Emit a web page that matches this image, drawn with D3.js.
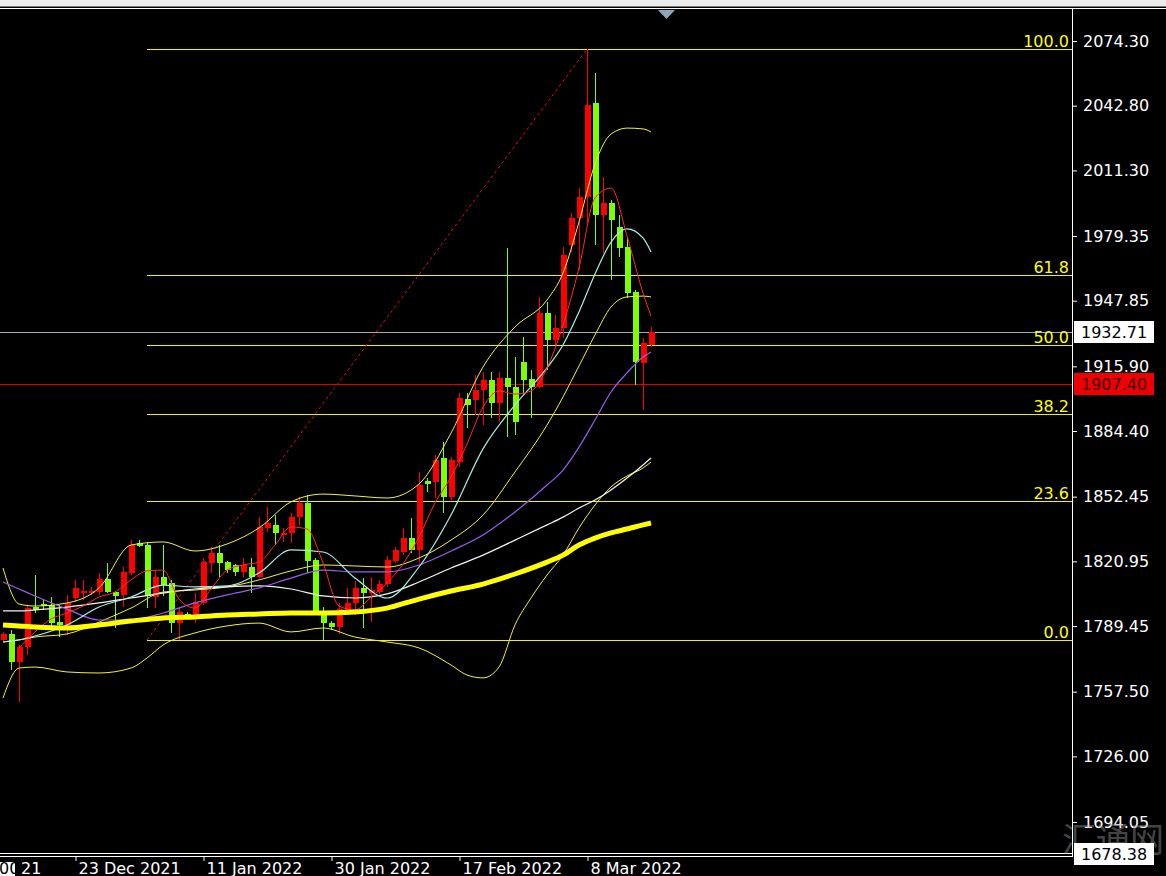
<!DOCTYPE html>
<html><head><meta charset="utf-8">
<script src="https://cdn.jsdelivr.net/npm/d3@7"></script>
<style>html,body{margin:0;padding:0;background:#000;overflow:hidden}</style>
</head><body><svg id="c" width="1166" height="876"></svg>
<script>
// ---------- DATA ----------
const opens=[1782.7,1785.6,1772.0,1779.3,1798.7,1800.2,1799.7,1791.4,1790.0,1803.1,1805.5,1805.5,1806.0,1812.4,1806.0,1804.6,1815.3,1829.9,1828.9,1803.6,1813.3,1810.4,1790.9,1795.3,1794.3,1800.7,1820.2,1825.0,1820.6,1819.2,1815.8,1818.2,1813.3,1837.2,1838.7,1833.8,1834.8,1842.5,1849.4,1821.6,1796.8,1790.9,1789.0,1797.3,1800.7,1808.0,1805.5,1806.0,1809.9,1821.1,1825.5,1832.3,1826.5,1860.1,1859.6,1871.3,1852.3,1869.3,1900.0,1899.5,1904.4,1909.3,1898.1,1910.2,1905.8,1918.0,1909.7,1905.8,1941.9,1928.7,1934.6,1975.0,1988.1,1998.3,2044.1,1989.6,1995.4,1983.7,1974.0,1952.1,1917.5,1926.3];
const highs=[1786.6,1787.5,1780.2,1799.7,1814.3,1802.1,1803.6,1799.7,1804.6,1811.9,1811.9,1808.5,1815.3,1820.2,1806.5,1818.2,1831.3,1831.3,1830.4,1816.7,1828.9,1811.9,1798.2,1796.3,1805.5,1822.6,1827.9,1828.9,1821.1,1819.7,1822.6,1822.6,1842.5,1847.4,1843.5,1837.2,1844.5,1852.3,1853.3,1822.6,1798.7,1791.9,1800.7,1808.0,1811.4,1812.8,1813.3,1811.9,1823.6,1827.9,1837.2,1842.1,1864.5,1861.5,1872.7,1879.1,1871.8,1902.9,1902.9,1911.7,1913.1,1913.1,1913.1,1973.5,1920.4,1930.2,1914.1,1949.7,1947.2,1940.9,1974.0,1990.6,2002.7,2070.4,2058.7,2008.1,1996.9,1989.6,1978.9,1953.1,1929.7,1935.1];
const lows=[1781.7,1768.1,1752.5,1775.4,1795.8,1797.8,1788.5,1784.1,1785.1,1801.2,1802.1,1804.6,1804.6,1805.5,1788.5,1798.7,1814.3,1827.9,1798.2,1798.2,1804.1,1786.1,1782.7,1793.4,1790.9,1799.7,1815.3,1813.3,1815.3,1813.8,1813.3,1805.5,1812.8,1835.2,1828.9,1830.4,1829.9,1838.7,1815.3,1795.8,1782.7,1787.5,1785.6,1795.8,1794.8,1788.5,1791.4,1805.1,1808.5,1820.2,1824.0,1825.0,1820.2,1854.7,1851.8,1844.5,1850.8,1866.9,1885.9,1892.2,1887.3,1890.7,1888.8,1881.5,1882.5,1902.9,1890.7,1905.4,1914.1,1926.3,1929.7,1971.6,1962.8,1985.7,1975.0,1971.1,1957.9,1969.1,1949.2,1906.8,1894.6,1925.3];
const closes=[1785.6,1772.0,1779.3,1798.2,1797.3,1799.2,1790.9,1790.0,1800.7,1808.0,1806.5,1806.5,1812.4,1806.0,1804.1,1815.8,1828.9,1828.4,1804.1,1813.3,1809.4,1790.9,1796.3,1794.3,1801.2,1820.6,1825.0,1820.2,1816.7,1815.8,1819.2,1813.3,1837.7,1839.6,1834.8,1834.8,1842.5,1849.4,1821.1,1796.8,1790.9,1789.0,1797.8,1800.7,1808.0,1805.5,1807.0,1809.9,1821.6,1826.5,1832.3,1826.5,1858.1,1858.6,1870.3,1852.3,1870.3,1900.5,1897.1,1904.4,1909.3,1898.1,1910.2,1905.8,1888.8,1909.3,1905.8,1941.9,1928.7,1934.6,1970.1,1988.1,1998.3,2043.1,1989.6,1995.4,1987.2,1973.5,1951.6,1918.0,1927.3,1932.71];

// indicator lines (bar index -> price)
const lineIdx=[0,2,4,8,12,16,20,24,28,32,36,40,44,48,52,56,60,64,68,70,72,74,76,78,80,81];
const maThick=[1790.0,1789.5,1789.0,1788.5,1790.0,1791.9,1793.4,1793.9,1794.8,1795.3,1795.8,1795.8,1796.3,1798.2,1802.6,1806.5,1809.9,1814.8,1820.6,1824.0,1828.9,1832.3,1834.8,1836.7,1838.7,1839.6];
const maWhite=[1796.8,1796.8,1797.3,1798.7,1800.7,1803.1,1805.5,1807.5,1808.5,1809.0,1807.5,1804.1,1803.1,1805.1,1810.9,1817.7,1824.0,1831.3,1838.7,1842.5,1846.9,1850.8,1855.7,1861.5,1867.9,1871.3];
const maPurple=[1810.9,1807.5,1804.1,1797.7,1792.4,1792.4,1795.8,1800.7,1804.6,1808.0,1812.8,1816.7,1815.8,1815.8,1819.2,1826.0,1833.8,1845.0,1858.1,1865.4,1876.6,1889.8,1903.4,1912.7,1920.4,1922.9];
const maCyan=[1781.7,1782.7,1784.6,1790.0,1798.7,1803.6,1809.4,1808.5,1809.0,1815.3,1826.5,1825.5,1812.8,1803.1,1818.2,1843.5,1875.7,1897.1,1915.1,1926.3,1942.4,1960.9,1976.4,1982.8,1978.4,1971.6];
const bbUpper=[1817.7,1800.2,1799.2,1800.7,1808.0,1828.9,1830.4,1826.0,1829.4,1837.2,1849.9,1853.7,1852.8,1851.8,1858.6,1883.4,1915.6,1935.1,1948.2,1961.3,1986.2,2014.4,2029.0,2031.9,2031.5,2030.0];
const bbMiddle=[1781.7,1782.7,1784.1,1785.6,1791.4,1798.2,1806.0,1807.0,1808.5,1811.9,1816.3,1819.2,1818.7,1818.2,1822.6,1831.3,1843.5,1864.5,1887.3,1901.0,1916.1,1931.2,1944.8,1949.7,1950.1,1949.7];
const lowerIdx=[0,2,4,8,12,16,18,20,24,28,32,36,40,44,48,52,56,58,60,62,64,66,68,70,72,74,76,78,80,81];
const bbLower=[1754.4,1769.0,1769.5,1767.1,1766.6,1769.0,1773.9,1780.2,1786.1,1789.5,1790.9,1786.6,1788.5,1784.1,1781.7,1778.8,1770.5,1765.6,1764.2,1769.5,1790.0,1803.1,1814.3,1824.0,1837.2,1848.4,1857.2,1862.5,1866.4,1869.3];
const redIdx=[2,4,6,8,10,12,14,16,18,20,22,24,26,28,30,32,34,36,38,40,42,44,46,48,50,52,54,56,58,60,62,64,66,68,70,72,74,76,78,80,81];
const maRed=[1778.8,1786.6,1792.9,1795.8,1799.2,1803.6,1806.0,1811.9,1816.3,1816.7,1802.6,1798.2,1807.5,1816.7,1819.2,1820.6,1828.9,1837.7,1836.7,1820.2,1799.2,1797.3,1803.6,1810.4,1819.7,1832.8,1849.4,1862.0,1878.1,1896.1,1903.9,1902.4,1903.9,1915.1,1936.0,1963.8,1997.9,2002.7,1979.4,1951.6,1940.4];

// Fibonacci retracement
const fibLowIdx=18, fibLowPrice=1782.66, fibHighIdx=73, fibHighPrice=2070.40;
const fibLevels=[0,23.6,38.2,50,61.8,100];
const fibLabels=["0.0","23.6","38.2","50.0","61.8","100.0"];

// price axis
const yTicks=[2074.30,2042.80,2011.30,1979.35,1947.85,1915.90,1884.40,1852.45,1820.95,1789.45,1757.50,1726.00,1694.05];
const lastPrice=1932.71, alertPrice=1907.40, bottomPrice=1678.38;
// date axis
const dateIdx=[9,25,41,57,73];
const dateLabels=["23 Dec 2021","11 Jan 2022","30 Jan 2022","17 Feb 2022","8 Mar 2022"];

// ---------- DRAW ----------
const W=1166,H=876, AX=1072, TOP=9, BOT=854;
const RED="#ff0000", GREEN="#7cff00", FONT="DejaVu Sans";
const svg=d3.select('#c');
svg.append('rect').attr('width',W).attr('height',H).attr('fill','#000');
svg.append('rect').attr('x',0).attr('y',0).attr('width',W).attr('height',6).attr('fill','#ececec');
svg.append('line').attr('x1',0).attr('x2',W).attr('y1',6.5).attr('y2',6.5).attr('stroke','#777');
svg.append('line').attr('x1',0).attr('x2',W).attr('y1',8.5).attr('y2',8.5).attr('stroke','#fff');

const x=d3.scaleLinear().domain([0,81]).range([3,651]);
const y=d3.scaleLinear().domain([1694.05,2074.30]).range([822,41]);
const px=i=>Math.round(x(i));

svg.append('defs').append('clipPath').attr('id','clip')
  .append('rect').attr('x',0).attr('y',TOP+1).attr('width',AX).attr('height',BOT-TOP-1);
const plot=svg.append('g').attr('clip-path','url(#clip)');

// fib lines
const fibPrice=l=>fibLowPrice+(fibHighPrice-fibLowPrice)*l/100;
plot.selectAll('line.fib').data(fibLevels).join('line')
  .attr('x1',px(fibLowIdx)).attr('x2',AX)
  .attr('y1',d=>Math.round(y(fibPrice(d)))+0.5).attr('y2',d=>Math.round(y(fibPrice(d)))+0.5)
  .attr('stroke','#f0f000').attr('stroke-width',1).attr('shape-rendering','crispEdges');
svg.selectAll('text.fib').data(fibLevels).join('text')
  .attr('x',AX-3).attr('y',d=>Math.round(y(fibPrice(d)))-2)
  .attr('text-anchor','end').attr('fill','#ffff00')
  .attr('font-family',FONT).attr('font-size',16)
  .text((d,i)=>fibLabels[i]);
// trend (dashed)
plot.append('line')
  .attr('x1',x(fibLowIdx)).attr('y1',y(fibLowPrice))
  .attr('x2',x(fibHighIdx)).attr('y2',y(fibHighPrice))
  .attr('stroke','#e01010').attr('stroke-width',1).attr('stroke-dasharray','3,3');

// horizontal price lines
plot.append('line').attr('x1',0).attr('x2',AX)
  .attr('y1',Math.round(y(lastPrice))+0.5).attr('y2',Math.round(y(lastPrice))+0.5)
  .attr('stroke','#a8a8b8').attr('shape-rendering','crispEdges');
plot.append('line').attr('x1',0).attr('x2',AX)
  .attr('y1',Math.round(y(alertPrice))+0.5).attr('y2',Math.round(y(alertPrice))+0.5)
  .attr('stroke','#e00000').attr('shape-rendering','crispEdges');

// candles
const candles=opens.map((o,i)=>({i,o,h:highs[i],l:lows[i],c:closes[i]}));
const col=d=>d.c>=d.o?RED:GREEN;
plot.selectAll('line.wick').data(candles).join('line')
  .attr('x1',d=>px(d.i)+0.5).attr('x2',d=>px(d.i)+0.5)
  .attr('y1',d=>Math.round(y(d.h))).attr('y2',d=>Math.round(y(d.l)))
  .attr('stroke',col).attr('stroke-width',1).attr('shape-rendering','crispEdges');
plot.selectAll('rect.body').data(candles).join('rect')
  .attr('x',d=>px(d.i)-2).attr('width',6)
  .attr('y',d=>Math.round(y(Math.max(d.o,d.c))))
  .attr('height',d=>Math.max(2,Math.round(Math.abs(y(d.o)-y(d.c)))))
  .attr('fill',col).attr('shape-rendering','crispEdges');

// indicator lines
const mk=(idx,vals)=>idx.map((k,j)=>[k,vals[j]]);
const lineGen=d3.line().x(d=>x(d[0])).y(d=>y(d[1])).curve(d3.curveMonotoneX);
const addLine=(data,color,w)=>plot.append('path').attr('d',lineGen(data))
  .attr('fill','none').attr('stroke',color).attr('stroke-width',w);
addLine(mk(lineIdx,bbUpper),'#f4f040',1);
addLine(mk(lineIdx,bbMiddle),'#f4f040',1);
addLine(mk(lowerIdx,bbLower),'#f4f040',1);
addLine(mk(lineIdx,maWhite),'#f4f4f4',1.2);
addLine(mk(lineIdx,maPurple),'#9a5cf0',1.2);
addLine(mk(lineIdx,maCyan),'#a8f0e8',1.2);
addLine(mk(redIdx,maRed),'#ff2a2a',1);
addLine(mk(lineIdx,maThick),'#ffff00',5);

// frame / axes
svg.append('line').attr('x1',AX+0.5).attr('x2',AX+0.5).attr('y1',8).attr('y2',857).attr('stroke','#fff');
svg.append('line').attr('x1',0).attr('x2',AX).attr('y1',853.5).attr('y2',853.5).attr('stroke','#fff');
svg.append('line').attr('x1',0).attr('x2',AX).attr('y1',856.5).attr('y2',856.5).attr('stroke','#fff');

const yAxis=svg.append('g').attr('transform',`translate(${AX+1},0)`)
  .call(d3.axisRight(y).tickValues(yTicks).tickFormat(d3.format('.2f')).tickSize(4).tickPadding(6));
yAxis.select('.domain').remove();
yAxis.selectAll('line').attr('stroke','#fff');
yAxis.selectAll('text').attr('fill','#fff').attr('font-family',FONT).attr('font-size',16);

// price tags
const tag=(p,bg,fg)=>{
  const cy=Math.round(y(p));
  svg.append('rect').attr('x',AX+2).attr('y',cy-11).attr('width',80).attr('height',22).attr('fill',bg);
  svg.append('text').attr('x',AX+9).attr('y',cy).attr('dy','0.36em')
    .attr('fill',fg).attr('font-family',FONT).attr('font-size',16).text(p.toFixed(2));
};
tag(lastPrice,'#ffffff','#000');
tag(alertPrice,'#ee0000','#3a0000');

// watermark
svg.append('text').attr('x',1062).attr('y',852).attr('fill','#9a9a9a').attr('fill-opacity',0.45)
  .attr('font-family','Noto Sans CJK SC').attr('font-size',34).text('汇通网');
tag(bottomPrice,'#ffffff','#000');

// date axis
const xAxis=svg.append('g').attr('transform','translate(0,857)')
  .call(d3.axisBottom(x).tickValues(dateIdx).tickFormat((d,i)=>dateLabels[i]).tickSize(4).tickPadding(0));
xAxis.select('.domain').remove();
xAxis.selectAll('line').attr('stroke','#fff').attr('transform','translate(0.5,0)');
xAxis.selectAll('text').attr('fill','#fff').attr('font-family',FONT).attr('font-size',16)
  .attr('text-anchor','start').attr('x',3).attr('y',17).attr('dy',0);
svg.append('rect').attr('x',0).attr('y',862).attr('width',15).attr('height',14).attr('fill','#fff');
svg.append('text').attr('x',-1).attr('y',874).attr('fill','#000').attr('font-family',FONT).attr('font-size',16).text('00');
svg.append('text').attr('x',21).attr('y',874).attr('fill','#fff').attr('font-family',FONT).attr('font-size',16).text('21');

// scroll marker
svg.append('path').attr('d',d3.line()([[658,10],[675,10],[666.5,19]])+'Z').attr('fill','#8ea6bd');
</script></body></html>
